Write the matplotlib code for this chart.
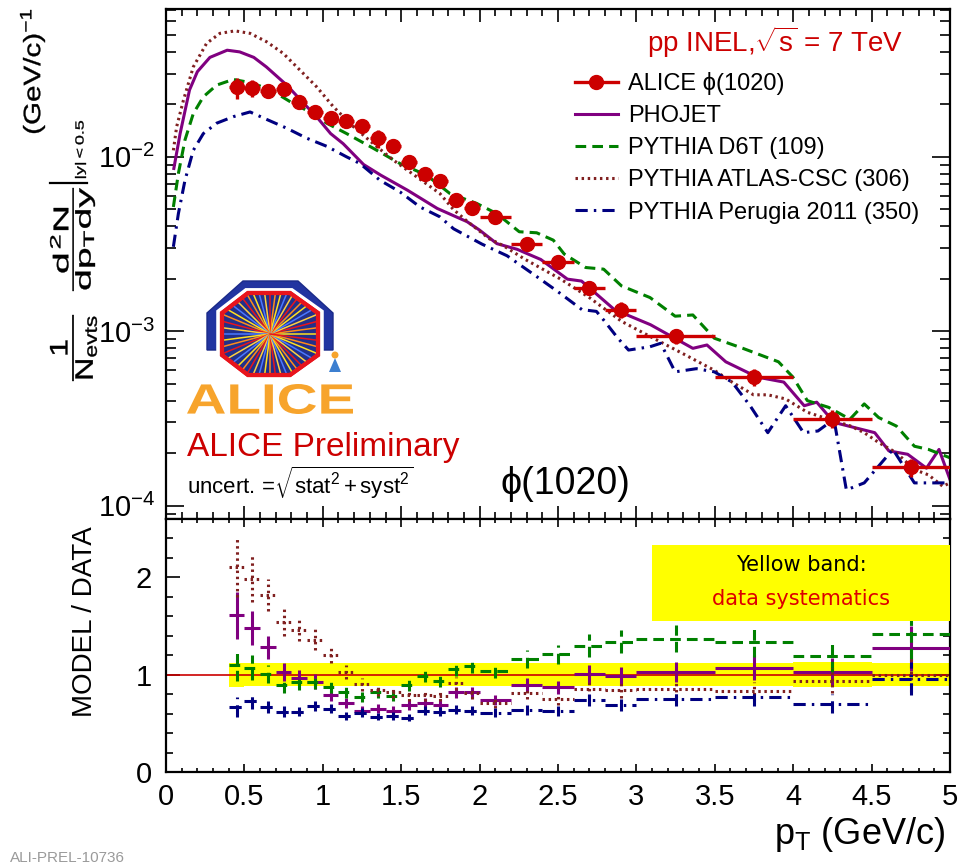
import matplotlib
matplotlib.use('Agg')
import matplotlib.pyplot as plt
import numpy as np
from matplotlib.lines import Line2D
from matplotlib.patches import Polygon, PathPatch, Circle
from matplotlib.textpath import TextPath
from matplotlib.font_manager import FontProperties
from matplotlib.transforms import Affine2D
from matplotlib.ticker import MultipleLocator, FuncFormatter, LogLocator

plt.rcParams['font.family'] = ['Liberation Sans', 'DejaVu Sans']
plt.rcParams['mathtext.fontset'] = 'custom'
plt.rcParams['mathtext.rm'] = 'Liberation Sans'
plt.rcParams['mathtext.it'] = 'Liberation Sans'
plt.rcParams['mathtext.sf'] = 'Liberation Sans'
plt.rcParams['mathtext.bf'] = 'Liberation Sans:bold'

# ALICE phi(1020) spectrum, pp INEL 7 TeV
bin_edges = [0.4, 0.5, 0.6, 0.7, 0.8, 0.9, 1.0, 1.1, 1.2, 1.3, 1.4, 1.5, 1.6, 1.7,
             1.8, 1.9, 2.0, 2.2, 2.4, 2.6, 2.8, 3.0, 3.5, 4.0, 4.5, 5.0]
data_yield = [0.0250, 0.0248, 0.0239, 0.0244, 0.0206, 0.0181, 0.0168, 0.0161, 0.0150,
              0.0128, 0.0116, 0.00936, 0.00796, 0.00732, 0.00565, 0.00510, 0.00454,
              0.00318, 0.00250, 0.00178, 0.00133, 0.000935, 0.000544, 0.000315, 0.000166]
data_rel_err = [0.14, 0.11, 0.08, 0.08, 0.08, 0.08, 0.08, 0.08, 0.08, 0.12, 0.08, 0.08, 0.08,
                0.08, 0.08, 0.08, 0.08, 0.08, 0.09, 0.09, 0.10, 0.10, 0.11, 0.12, 0.12]
data_rel_syst = [0.125, 0.12, 0.12, 0.12, 0.12, 0.12, 0.12, 0.12, 0.12, 0.12, 0.12, 0.12, 0.12,
                 0.12, 0.12, 0.12, 0.12, 0.12, 0.12, 0.12, 0.12, 0.12, 0.12, 0.13, 0.12]

# generator curves
phojet_pt = [0.05, 0.09, 0.15, 0.20, 0.28, 0.39, 0.47, 0.56, 0.64, 0.77, 0.88, 0.96, 1.05, 1.13,
             1.26, 1.37, 1.54, 1.73, 1.92, 2.0, 2.11, 2.24, 2.31, 2.39, 2.56, 2.65, 2.86, 3.09,
             3.36, 3.45, 3.57, 3.77, 3.94, 4.07, 4.15, 4.26, 4.52, 4.61, 4.73, 4.85, 4.93, 5.0]
phojet_y = [0.00858, 0.0136, 0.0242, 0.0308, 0.0372, 0.0409, 0.0400, 0.0372, 0.0328, 0.0258,
            0.0202, 0.0170, 0.0136, 0.0119, 0.00904, 0.00785, 0.00644, 0.00506, 0.00425, 0.0038,
            0.00318, 0.00295, 0.00277, 0.00258, 0.00199, 0.00194, 0.00133, 0.00109, 0.000798,
            0.000834, 0.000668, 0.000546, 0.000511, 0.000374, 0.000392, 0.000300, 0.000262,
            0.000206, 0.000197, 0.000164, 0.000210, 0.000141]

d6t_pt = [0.047, 0.079, 0.121, 0.174, 0.238, 0.323, 0.429, 0.515, 0.6, 0.706, 0.812, 0.918,
          1.025, 1.152, 1.322, 1.492, 1.662, 1.811, 1.981, 2.109, 2.253, 2.364, 2.47, 2.54,
          2.677, 2.791, 2.905, 3.087, 3.247, 3.36, 3.497, 3.679, 3.906, 3.998, 4.09, 4.226,
          4.362, 4.453, 4.545, 4.658, 4.773, 4.863, 5.0]
d6t_y = [0.00516, 0.00803, 0.0125, 0.0177, 0.0221, 0.0258, 0.0278, 0.0269, 0.0255, 0.0231,
         0.0202, 0.0181, 0.0156, 0.0136, 0.0112, 0.00916, 0.00785, 0.00616, 0.00541, 0.00473,
         0.00372, 0.00367, 0.00333, 0.00277, 0.00232, 0.00227, 0.00182, 0.00156, 0.00122,
         0.00124, 0.000912, 0.000798, 0.000668, 0.000546, 0.0004, 0.000366, 0.000313,
         0.000383, 0.00032, 0.000286, 0.000219, 0.00021, 0.000188]

atlas_pt = [0.047, 0.068, 0.111, 0.174, 0.259, 0.344, 0.44, 0.536, 0.642, 0.748, 0.855, 0.961,
            1.067, 1.195, 1.322, 1.45, 1.599, 1.747, 1.832, 1.917, 2.06, 2.15, 2.288, 2.517,
            2.7, 2.905, 3.13, 3.314, 3.497, 3.61, 3.747, 3.838, 3.952, 4.09, 4.226, 4.362,
            4.453, 4.545, 4.658, 4.773, 4.863, 4.954, 5.0]
atlas_y = [0.0109, 0.0149, 0.0211, 0.0328, 0.0448, 0.0511, 0.0528, 0.0511, 0.0457, 0.0392,
           0.0314, 0.0252, 0.0194, 0.0149, 0.0119, 0.00958, 0.00768, 0.00616, 0.0050, 0.0043,
           0.0034, 0.0031, 0.00259, 0.00199, 0.00156, 0.00114, 0.000891, 0.00073, 0.000597,
           0.000511, 0.000432, 0.000432, 0.000409, 0.000343, 0.000313, 0.000287, 0.000262,
           0.00023, 0.000201, 0.000161, 0.00015, 0.000129, 0.000135]

perugia_pt = [0.047, 0.079, 0.121, 0.174, 0.238, 0.323, 0.429, 0.536, 0.642, 0.77, 0.897,
              1.025, 1.152, 1.237, 1.365, 1.492, 1.62, 1.747, 1.834, 2.015, 2.175, 2.357,
              2.494, 2.653, 2.745, 2.791, 2.882, 2.95, 3.087, 3.155, 3.247, 3.383, 3.497,
              3.61, 3.725, 3.838, 3.952, 4.066, 4.158, 4.26, 4.339, 4.453, 4.636, 4.773,
              4.909, 5.0]
perugia_y = [0.00305, 0.00473, 0.00734, 0.0109, 0.0136, 0.0156, 0.0170, 0.0181, 0.0164, 0.0146,
             0.0128, 0.0115, 0.0100, 0.00916, 0.00734, 0.0063, 0.00516, 0.00453, 0.00387,
             0.00316, 0.00271, 0.00208, 0.0017, 0.00133, 0.0013, 0.00116, 0.000912, 0.00078,
             0.000815, 0.000853, 0.000585, 0.00061, 0.000585, 0.000511, 0.000374, 0.000262,
             0.000374, 0.000262, 0.000268, 0.000313, 0.000123, 0.000135, 0.00021, 0.000135,
             0.000135, 0.000135]

# model / data in the same bins
phojet_ratio = [1.61, 1.48, 1.28, 1.03, 0.97, 0.93, 0.79, 0.71, 0.63, 0.65, 0.63, 0.69, 0.71,
                0.69, 0.82, 0.82, 0.74, 0.89, 0.87, 1.01, 0.99, 1.03, 1.07, 1.03, 1.27]
d6t_ratio = [1.10, 1.07, 1.01, 0.89, 0.92, 0.93, 0.87, 0.82, 0.77, 0.82, 0.78, 0.89, 0.99,
             0.94, 1.06, 1.09, 1.04, 1.16, 1.21, 1.30, 1.34, 1.37, 1.34, 1.19, 1.42]
atlas_ratio = [2.11, 1.98, 1.82, 1.54, 1.46, 1.36, 1.20, 1.03, 0.90, 0.84, 0.82, 0.79, 0.79,
               0.78, 0.91, 0.81, 0.71, 0.81, 0.75, 0.85, 0.84, 0.85, 0.83, 0.94, 1.00]
perugia_ratio = [0.67, 0.73, 0.67, 0.62, 0.62, 0.68, 0.65, 0.58, 0.61, 0.57, 0.58, 0.56, 0.63,
                 0.62, 0.64, 0.63, 0.61, 0.64, 0.63, 0.74, 0.69, 0.75, 0.77, 0.70, 0.96]
ratio_rel_err = [0.15, 0.12, 0.09, 0.09, 0.08, 0.08, 0.07, 0.07, 0.07, 0.07, 0.07, 0.07, 0.07,
                 0.07, 0.07, 0.07, 0.07, 0.08, 0.08, 0.09, 0.09, 0.10, 0.12, 0.14, 0.18]

labels = ['ALICE ϕ(1020)', 'PHOJET', 'PYTHIA D6T (109)', 'PYTHIA ATLAS-CSC (306)',
          'PYTHIA Perugia 2011 (350)']

RED = '#cc0000'
models = [
    (phojet_pt, phojet_y, phojet_ratio, '#800080', '-'),
    (d6t_pt, d6t_y, d6t_ratio, '#008000', (0, (3.5, 2))),
    (atlas_pt, atlas_y, atlas_ratio, '#802020', (0, (0.8, 1.2))),
    (perugia_pt, perugia_y, perugia_ratio, '#000080', (0, (4, 2, 0.8, 2))),
]

edges = np.array(bin_edges)
centers = 0.5 * (edges[1:] + edges[:-1])
half = 0.5 * (edges[1:] - edges[:-1])
yld = np.array(data_yield)

W, H = 960, 864
fig = plt.figure(figsize=(W / 100, H / 100), dpi=100)
ax = fig.add_axes([166 / W, 1 - 519 / H, 784 / W, 509.7 / H])
axr = fig.add_axes([166 / W, 1 - 772 / H, 784 / W, 253 / H], sharex=ax)

# --- spectra
for pt, y, r, col, ls in models:
    ax.plot(pt, y, color=col, ls=ls, lw=2.2, zorder=2)
ax.errorbar(centers, yld, xerr=half, yerr=yld * np.array(data_rel_err), fmt='o', color=RED,
            ms=10, elinewidth=2.4, capsize=0, zorder=4)

ax.set_yscale('log')
ax.set_ylim(8.38e-5, 0.0702)
ax.set_xlim(0, 5)

# --- ratios
axr.bar(centers, 2 * np.array(data_rel_syst), bottom=1 - np.array(data_rel_syst),
        width=2 * half, color='#ffff00', lw=0, zorder=1)
axr.axhline(1, color=RED, lw=1.2, zorder=2)
for pt, y, r, col, ls in models:
    r = np.array(r)
    eb = axr.errorbar(centers, r, xerr=half, yerr=r * np.array(ratio_rel_err), fmt='none',
                      ecolor=col, elinewidth=2.2, capsize=0, zorder=3)
    for c in eb[2]:
        c.set_linestyle(ls)
axr.set_ylim(0, 2.6)

# --- axes styling (ticks inside on every side)
for a in (ax, axr):
    for s in a.spines.values():
        s.set_linewidth(1.6)
    a.xaxis.set_major_locator(MultipleLocator(0.5))
    a.xaxis.set_minor_locator(MultipleLocator(0.1))
    a.tick_params(which='both', direction='in', top=True, right=True, width=1.2,
                  labelsize=21)
ax.tick_params(axis='x', which='major', length=9.5)
ax.tick_params(axis='x', which='minor', length=5)
ax.tick_params(axis='y', which='major', length=13, pad=8)
ax.tick_params(axis='y', which='minor', length=7)
ax.tick_params(axis='x', labelbottom=False)
ax.yaxis.set_minor_locator(LogLocator(base=10, subs=np.arange(2, 10)))
axr.tick_params(axis='x', which='major', length=6, pad=8)
axr.tick_params(axis='x', which='minor', length=3)
axr.tick_params(axis='y', which='major', length=10, pad=10)
axr.tick_params(axis='y', which='minor', length=5)
axr.yaxis.set_major_locator(MultipleLocator(1))
axr.yaxis.set_minor_locator(MultipleLocator(0.2))
fmt = FuncFormatter(lambda v, p: f'{v:g}')
axr.xaxis.set_major_formatter(fmt)
axr.yaxis.set_major_formatter(fmt)


def boxed_text(s, x0, x1, y0, y1):
    """Vertical text stretched to fill a pixel box (x right, y down from top-left)."""
    tp = TextPath((0, 0), s, size=20, prop=FontProperties(family='Liberation Sans'))
    p = Affine2D().rotate_deg(90).transform_path(tp)
    e = p.get_extents()
    t = (Affine2D().translate(-e.x0, -e.y0)
         .scale((x1 - x0) / e.width, (y1 - y0) / e.height)
         .translate(x0, H - y1).scale(1 / W, 1 / H))
    fig.add_artist(PathPatch(t.transform_path(p), transform=fig.transFigure,
                             facecolor='black', edgecolor='black', lw=0.25))


# --- y title of the spectrum panel, in pieces
boxed_text(r'(GeV/c)$^{-1}$', 20, 45, 10, 133)
boxed_text(r'$|y|<0.5$', 75, 86, 121, 178)
fig.add_artist(Line2D([50 / W, 87 / W], [1 - 183 / H, 1 - 183 / H], transform=fig.transFigure,
                      color='black', lw=1.6))
boxed_text(r'$\dfrac{d^{2}N}{dp_{T}dy}$', 50, 95, 188, 291)
boxed_text(r'$\dfrac{1}{N_{evts}}$', 50, 97, 315, 381)

fig.text(85 / W, 1 - 622 / H, 'MODEL / DATA', rotation=90, ha='center', va='center',
         fontsize=20)
fig.text(945 / W, 1 - 835 / H, r'p$_{T}$ (GeV/c)', ha='right', va='center', fontsize=26)

# --- legend and labels
handles = [Line2D([], [], color=RED, marker='o', ms=10, lw=2.4)]
handles += [Line2D([], [], color=m[3], ls=m[4], lw=2.2) for m in models]
fig.legend(handles, labels, loc='upper left', bbox_to_anchor=(575 / W, 1 - 72 / H),
           bbox_transform=fig.transFigure, frameon=False, fontsize=17, handlelength=1.8,
           handletextpad=0.45, labelspacing=0.43, borderpad=0, borderaxespad=0)
fig.text(775 / W, 1 - 42 / H, r'pp INEL,$\sqrt{s}$ = 7 TeV', ha='center', va='center',
         color=RED, fontsize=20)
fig.text(187 / W, 1 - 447 / H, 'ALICE Preliminary', color=RED, fontsize=24, va='center')
fig.text(187 / W, 1 - 483 / H,
         r'uncert. =$\sqrt{\mathrm{stat}^{2} + \mathrm{syst}^{2}}$', fontsize=16,
         va='center')
fig.text(500 / W, 1 - 484 / H, 'ϕ(1020)', fontsize=27, va='center')

# yellow note in the ratio panel
axr.add_patch(plt.Rectangle((0.62, 0.595), 0.38, 0.304, transform=axr.transAxes,
                            facecolor='#ffff00', edgecolor='none', zorder=5))
axr.text(0.81, 0.82, 'Yellow band:', transform=axr.transAxes, ha='center', va='center',
         fontsize=15, family='DejaVu Sans', zorder=6)
axr.text(0.81, 0.685, 'data systematics', transform=axr.transAxes, ha='center',
         va='center', fontsize=15, family='DejaVu Sans', color='#dd0000', zorder=6)

fig.text(10 / W, 2 / H, 'ALI-PREL-10736', color='#9a9a9a', fontsize=11, va='baseline')

# --- experiment logo
lg = fig.add_axes([186 / W, 1 - 416 / H, 170 / W, 138 / H])
lg.set_xlim(0, 170)
lg.set_ylim(0, 138)
lg.axis('off')
lg.add_patch(Polygon([(21, 66), (21, 103), (57, 135), (112, 135), (147, 103), (147, 66)],
                     closed=True, facecolor='#2234a0', edgecolor='#1a2a88', lw=1))
oct_xy = np.array([(62, 123), (104, 123), (132, 103), (132, 61), (104, 41), (62, 41),
                   (36, 61), (36, 103)], dtype=float)
cen = np.array([84.0, 82.0])
lg.add_patch(Polygon(cen + (oct_xy - cen) * 1.12, closed=True, facecolor='white',
                     edgecolor='none'))
octo = Polygon(oct_xy, closed=True, facecolor='#22308a', edgecolor='#e8141c', lw=3,
               zorder=3)
lg.add_patch(octo)
ray_cols = ['#ffe020', '#ff8c1a', '#e8141c', '#ffd040', '#4a78ff']
for i, ang in enumerate(np.linspace(0, 2 * np.pi, 48, endpoint=False)):
    ln, = lg.plot([cen[0], cen[0] + 70 * np.cos(ang)], [cen[1], cen[1] + 70 * np.sin(ang)],
                  color=ray_cols[i % len(ray_cols)], lw=1.1, zorder=4)
    ln.set_clip_path(octo)
lg.add_patch(Polygon(oct_xy, closed=True, facecolor='none', edgecolor='#e8141c', lw=3,
                     zorder=5))
tp = TextPath((0, 0), 'ALICE', size=1, prop=FontProperties(family='Liberation Sans',
                                                           weight='bold'))
ext = tp.get_extents()
tr = Affine2D().translate(-ext.x0, -ext.y0).scale(166 / ext.width, 30 / ext.height) \
    .translate(1, 2)
lg.add_patch(PathPatch(tr.transform_path(tp), facecolor='#f7a42c', edgecolor='none'))
lg.add_patch(Polygon([(143, 44), (155, 44), (149, 58)], closed=True, facecolor='#3c7fd0',
                     edgecolor='none', zorder=6))
lg.add_patch(Circle((149, 61), 3.5, facecolor='#f7a42c', edgecolor='none', zorder=6))

fig.savefig('out.png', dpi=100)
